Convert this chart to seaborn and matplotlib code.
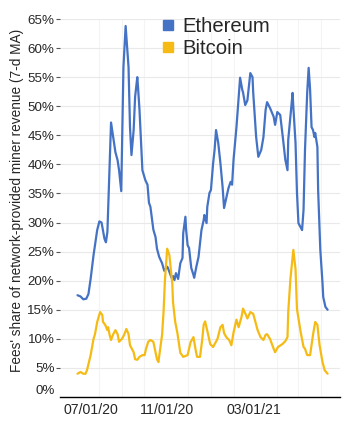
import pandas as pd
import matplotlib.pyplot as plt
import matplotlib.dates as mdates
import matplotlib.transforms as mtransforms
from matplotlib.lines import Line2D
import seaborn as sns

start_date = "2020-07-01"

# days after start_date
eth_day = [1, 5, 9, 13, 16, 19, 23, 28, 31, 34, 38, 40, 42, 45, 47, 50, 53, 56, 58, 61,
           64, 67, 71, 73, 75, 78, 80, 83, 84, 86, 90, 94, 97, 99, 101, 105, 108, 110, 113, 117,
           120, 124, 125, 130, 132, 134, 136, 139, 142, 145, 146, 149, 150, 152, 154, 157, 160, 161, 164, 167,
           171, 174, 175, 178, 179, 182, 184, 187, 189, 191, 194, 197, 200, 202, 205, 208, 211, 213, 215, 219,
           222, 224, 227, 228, 231, 234, 238, 241, 242, 246, 249, 253, 256, 259, 261, 265, 270, 272, 275, 279,
           283, 286, 289, 290, 293, 296, 297, 300, 302, 304, 307, 309, 311, 313, 316, 318, 320, 322, 324, 326,
           327, 330, 331, 334, 337, 338, 341, 344]
eth_share = [17.5, 17.3, 16.8, 16.9, 17.7, 20.3, 24.4, 28.7, 30.2, 30.0, 27.2, 26.6, 28.4, 40.0, 47.2, 44.7, 42.1, 40.7, 39.0, 35.4,
             56.7, 63.8, 56.7, 46.4, 41.6, 45.9, 51.6, 55.0, 53.3, 49.4, 39.0, 37.3, 36.5, 33.4, 32.7, 28.8, 27.5, 25.5, 24.1, 23.0,
             21.7, 22.4, 22.2, 20.5, 20.8, 20.1, 21.3, 20.3, 23.0, 23.9, 28.2, 31.0, 28.7, 26.1, 25.6, 22.2, 21.0, 20.5, 22.4, 24.1,
             28.7, 30.4, 31.3, 29.9, 32.7, 35.1, 35.6, 40.2, 42.5, 45.9, 43.7, 40.2, 36.1, 32.5, 34.2, 35.9, 37.0, 36.5, 40.8, 46.4,
             51.6, 54.9, 52.8, 52.4, 50.2, 51.0, 55.7, 55.0, 52.3, 44.7, 41.3, 42.5, 44.7, 49.4, 50.7, 49.7, 48.2, 46.8, 49.0, 48.5,
             44.2, 40.8, 39.0, 44.2, 48.2, 52.3, 49.9, 43.7, 35.1, 29.9, 29.2, 28.7, 32.2, 42.5, 52.3, 56.6, 52.8, 46.4, 45.9, 44.7,
             45.4, 43.0, 35.6, 25.3, 19.6, 17.2, 15.5, 15.0]

btc_day = [1, 5, 9, 12, 14, 19, 23, 25, 28, 32, 35, 36, 39, 42, 43, 45, 47, 50, 53, 56,
           58, 62, 65, 68, 71, 73, 78, 80, 83, 86, 90, 93, 95, 98, 101, 105, 108, 110, 112, 113,
           117, 119, 121, 124, 127, 131, 132, 135, 138, 142, 146, 152, 156, 160, 163, 165, 169, 172, 174, 176,
           179, 183, 187, 193, 197, 200, 202, 205, 209, 212, 215, 219, 222, 226, 228, 231, 234, 238, 242, 245,
           248, 252, 256, 259, 261, 265, 270, 272, 276, 282, 286, 289, 290, 293, 297, 300, 302, 307, 311, 313,
           316, 320, 324, 327, 330, 333, 337, 340, 344]
btc_share = [4.0, 4.3, 4.0, 4.0, 4.6, 7.2, 10.0, 10.8, 12.9, 14.6, 14.1, 12.9, 12.4, 11.5, 12.0, 10.7, 9.8, 10.8, 11.5, 10.8,
             9.5, 10.0, 10.7, 11.7, 10.8, 8.9, 7.7, 6.5, 6.4, 6.9, 7.2, 7.2, 8.3, 9.5, 9.8, 9.5, 7.7, 6.5, 6.0, 7.0,
             10.7, 14.6, 20.3, 25.5, 24.4, 19.5, 16.3, 12.9, 11.0, 7.6, 6.9, 7.2, 9.4, 10.3, 8.1, 6.9, 6.9, 9.8, 12.4, 13.0,
             11.4, 9.1, 8.6, 10.0, 12.0, 12.4, 11.0, 10.3, 9.8, 8.9, 11.1, 13.3, 12.0, 13.8, 15.2, 14.4, 13.5, 14.6, 14.3, 12.9,
             11.5, 10.3, 9.8, 10.7, 10.8, 10.0, 8.3, 7.7, 8.6, 9.1, 9.6, 10.3, 14.6, 20.3, 25.3, 22.0, 15.1, 11.2, 8.6, 8.3,
             7.2, 7.2, 10.7, 12.9, 12.4, 8.9, 6.0, 4.6, 4.0]

series_names = ["Ethereum", "Bitcoin"]
colors = ["#4472c4", "#f5bb14"]
y_ticks = list(range(0, 70, 5))
x_label_dates = ["2020-07-01", "2020-11-01", "2021-03-01"]

t0 = pd.Timestamp(start_date)
eth = pd.DataFrame({"date": t0 + pd.to_timedelta(eth_day, unit="D"), "share": eth_share, "chain": "Ethereum"})
btc = pd.DataFrame({"date": t0 + pd.to_timedelta(btc_day, unit="D"), "share": btc_share, "chain": "Bitcoin"})
df = pd.concat([eth, btc], ignore_index=True)

sns.set_style("white")
plt.rcParams["font.family"] = ["Liberation Sans", "DejaVu Sans"]

fig = plt.figure(figsize=(3.52, 4.24), dpi=100)
ax = fig.add_axes([60 / 352, 1 - 397 / 424, 280 / 352, 378 / 424])

sns.lineplot(data=df, x="date", y="share", hue="chain", hue_order=series_names,
             palette=colors, linewidth=1.6, legend=False, ax=ax, estimator=None, sort=False)

ax.set_ylim(0, 65)
ax.set_xlim(pd.Timestamp("2020-06-08"), pd.Timestamp("2021-06-27"))

ax.set_yticks(y_ticks)
ax.set_yticklabels([f"{v}%" for v in y_ticks], fontsize=9.6)
ax.set_xticks(pd.to_datetime(x_label_dates))
ax.xaxis.set_major_formatter(mdates.DateFormatter("%m/%d/%y"))
ax.xaxis.set_minor_locator(mdates.MonthLocator())
ax.tick_params(axis="x", which="major", labelsize=10.2, length=3, width=0.8, color="#333333", pad=1.5)
ax.tick_params(axis="x", which="minor", length=3, width=0.8, color="#333333")
ax.tick_params(axis="y", length=3, width=0.8, color="#555555", pad=1, left=True)

ax.grid(axis="y", color="#e9e9e9", linewidth=0.8)
ax.grid(axis="x", which="minor", color="#f4f4f4", linewidth=0.8)
ax.set_axisbelow(True)

for side in ["top", "right", "left"]:
    ax.spines[side].set_visible(False)
ax.spines["bottom"].set_color("black")
ax.spines["bottom"].set_linewidth(1.0)

# first date label and bottom % label sit flush like in the original
ylabels = ax.get_yticklabels()
ylabels[0].set_verticalalignment("bottom")
ax.yaxis.get_major_ticks()[0].tick1line.set_visible(False)
xlabels = ax.get_xticklabels()
xlabels[0].set_transform(xlabels[0].get_transform() + mtransforms.ScaledTranslation(14 / 100, 0, fig.dpi_scale_trans))

ax.set_xlabel("")
ax.set_ylabel("Fees' share of network-provided miner revenue (7-d MA)", fontsize=9.8)
ax.yaxis.set_label_coords(-0.13, 0.52)

handles = [Line2D([], [], marker="s", linestyle="", markersize=6.5, color=c) for c in colors]
fig.legend(handles, series_names, loc="upper left", bbox_to_anchor=(160 / 352, 1 - 17 / 424),
           frameon=False, fontsize=14.6, handletextpad=0.3, labelspacing=0.15, borderpad=0,
           handlelength=0.8, borderaxespad=0)

fig.savefig("out.png", dpi=100)
